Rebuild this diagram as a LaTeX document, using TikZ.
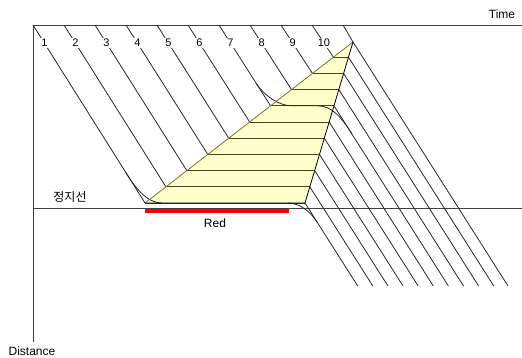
\documentclass[tikz,border=0pt]{standalone}
\usepackage{fontspec}
\setmainfont{Liberation Sans}
\newfontfamily\krfont{Noto Sans CJK KR}
\usepackage{xcolor}
\definecolor{queuefill}{RGB}{255,255,204}
\definecolor{queueedge}{RGB}{118,118,40}
\definecolor{stopped}{RGB}{70,70,30}

\begin{document}
\begin{tikzpicture}[x=1pt, y=-1pt, line width=0.8pt,
  every node/.style={font=\fontsize{12}{14}\selectfont, inner sep=1pt},
  axis/.style={draw=black!75},
  trip/.style={draw=black!85},
  stopbar/.style={draw=stopped},
  numlabel/.style={fill=white, inner sep=1.5pt, font=\fontsize{11}{13}\selectfont}]
  \useasboundingbox (0,0) rectangle (522,357);
  % queue region
  \coordinate (qa) at (145,203);
  \coordinate (qb) at (353,42);
  \coordinate (qc) at (305,203);
  \fill[queuefill] (qa) -- (qb) -- (qc) -- cycle;
  % axes and stop line
  \draw[axis] (33,342) -- (33,25) -- (522,25);
  \draw[axis] (33,208) -- (522,208);
  \fill[red] (145,209) rectangle (289,213);
  % vehicle trajectories
  \foreach \k in {1,...,10} {
    \pgfmathsetmacro{\ys}{203-(\k-1)*16.2}
    \pgfmathsetmacro{\xt}{33+(\k-1)*31}
    \pgfmathsetmacro{\xl}{145+(203-\ys)/161*208}
    \pgfmathsetmacro{\xr}{305+(203-\ys)/161*48}
    \pgfmathsetmacro{\xb}{\xr+0.635*(286-\ys)}
    \pgfmathsetmacro{\xn}{\xt+(\xl-\xt)/(\ys-25)*18}
    \draw[trip] (\xt,25) -- (\xl,\ys);
    \draw[stopbar] (\xl,\ys) -- (\xr,\ys);
    \draw[trip] (\xr,\ys) -- (\xb,286);
    \node[numlabel] (n\k) at (\xn,43) {\k};
  }
  \draw[trip] (343,25) -- (qb) -- (508,286);
  % smooth stop and start
  \draw[trip] (256,83) .. controls (263.7,95) and (278,105.8) .. (292,105.8)
    -- (318,105.8) .. controls (332,105.8) and (342,118) .. (352,134);
  \draw[trip] (125.5,172) .. controls (134.3,186) and (146,203) .. (162,203);
  \draw[trip] (288,203) .. controls (300,203) and (310.6,212) .. (317,222);
  % queue edges
  \draw[queueedge] (qa) -- (qb);
  \draw[black] (qb) -- (qc) -- (qa);
  % labels
  \node (timelbl) at (502,14) {Time};
  \node (distlbl) at (32,351) {Distance};
  \node (stoplbl) at (70,197) {\krfont 정지선};
  \node (redlbl) at (215,223) {Red};
\end{tikzpicture}
\end{document}
